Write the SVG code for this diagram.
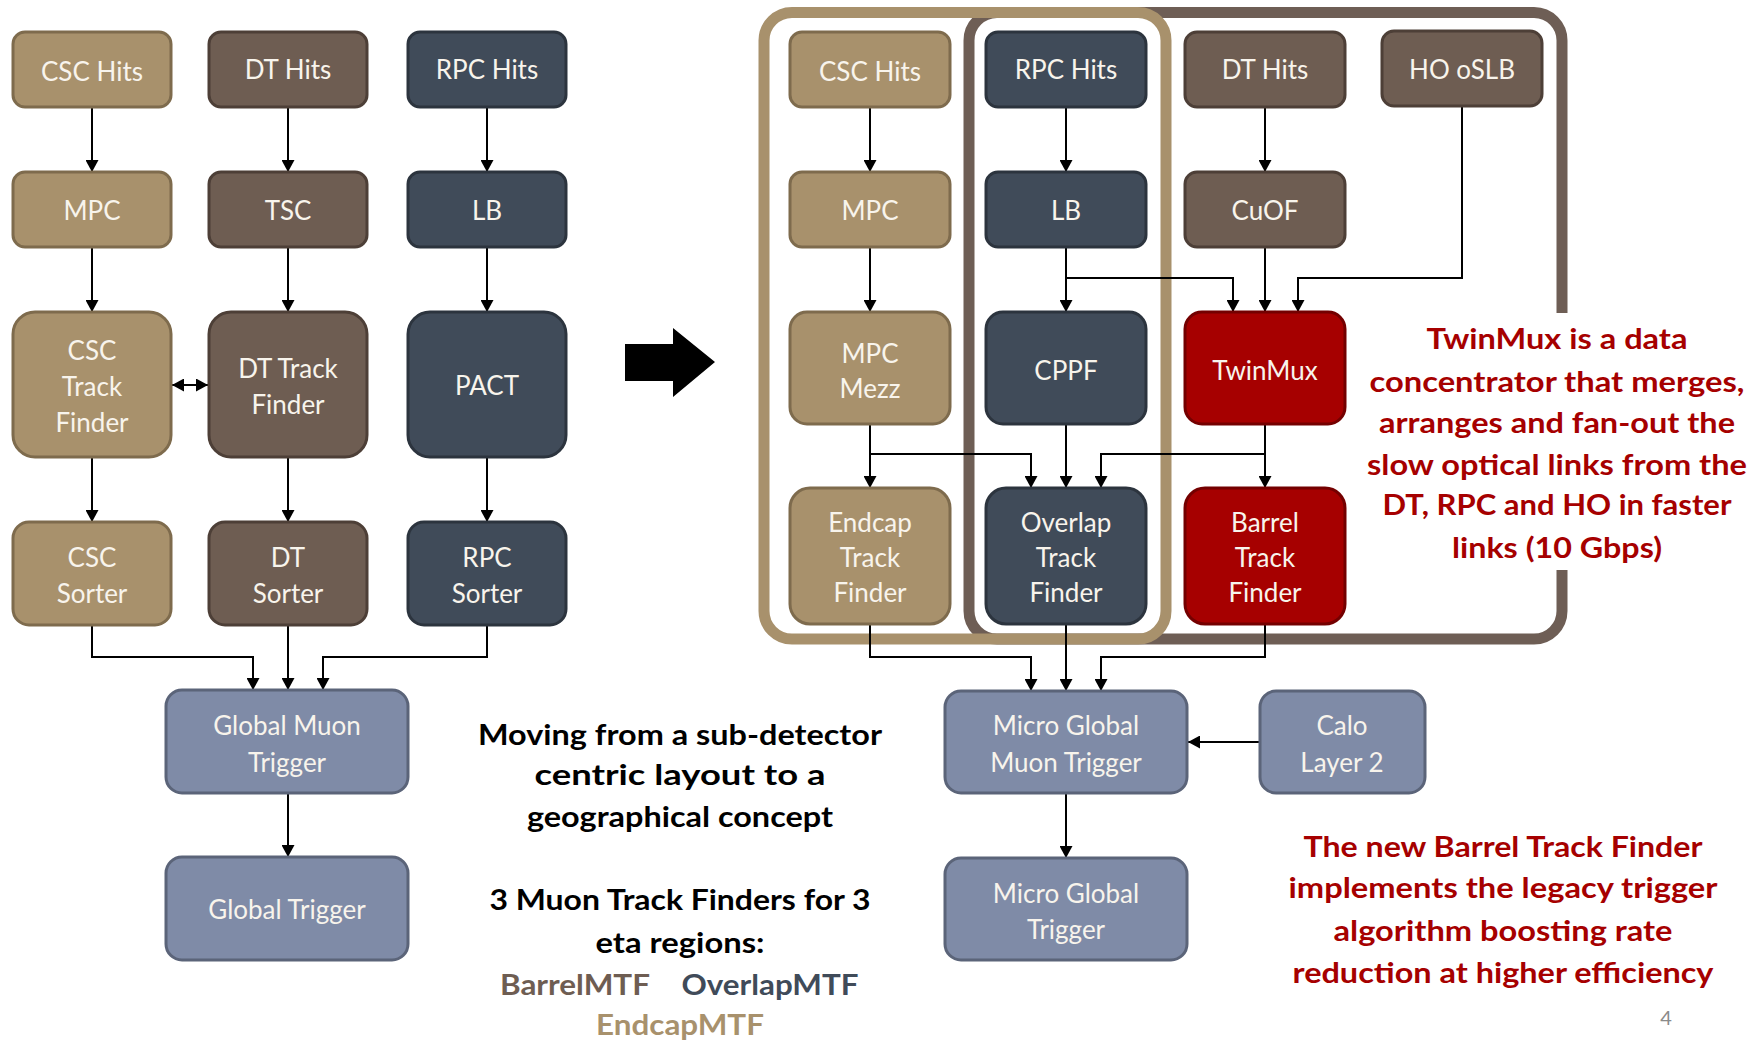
<svg xmlns="http://www.w3.org/2000/svg" width="1759" height="1045" viewBox="0 0 1759 1045">
<defs>
<style>
.box{stroke-width:3}
.tan{fill:#A8916C;stroke:#7E6B4D}
.dt{fill:#6E5D52;stroke:#4D3F37}
.rpc{fill:#404B59;stroke:#2C343E}
.red{fill:#A60000;stroke:#740000}
.gm{fill:#7F8BA7;stroke:#5B6479}
.lbl{font-family:Lato,"Liberation Sans",sans-serif;font-size:26px;fill:#F8F4EC;text-anchor:middle}
.conn path{stroke:#000;stroke-width:2;fill:none}
.ar{marker-end:url(#ah)}
.note{font-family:Lato,"Liberation Sans",sans-serif;font-weight:bold;font-size:28px;text-anchor:middle}
</style>
<marker id="ah" markerWidth="12" markerHeight="13" refX="12" refY="6.5" orient="auto-start-reverse" markerUnits="userSpaceOnUse"><path d="M0,0 L12,6.5 L0,13 z" fill="#000"/></marker>
</defs>
<rect width="1759" height="1045" fill="#fff"/>

<!-- containers -->
<g id="containers" fill="none" stroke-width="11">
<path id="barrel-region" d="M1562,313 V41 A28,28 0 0 0 1534,12.5 H997 A28,28 0 0 0 969,40.5 V611 A28,28 0 0 0 997,639 H1534 A28,28 0 0 0 1562,611 V570" stroke="#6E5E55"/>
<rect id="endcap-region" x="764" y="12.5" width="402" height="626.5" rx="28" stroke="#A8916C"/>
</g>

<!-- big arrow -->
<polygon id="transition-arrow" points="625,344 673,344 673,328 715,362 673,397 673,381 625,381" fill="#000"/>

<!-- connectors -->
<g id="connectors" class="conn">
<path class="ar" d="M92,107 V172"/>
<path class="ar" d="M92,247 V312"/>
<path class="ar" d="M92,457 V522"/>
<path class="ar" d="M288,107 V172"/>
<path class="ar" d="M288,247 V312"/>
<path class="ar" d="M288,457 V522"/>
<path class="ar" d="M487,107 V172"/>
<path class="ar" d="M487,247 V312"/>
<path class="ar" d="M487,457 V522"/>
<path class="ar" d="M172,385 H208" marker-start="url(#ah)"/>
<path class="ar" d="M92,625 V657 H253 V690"/>
<path class="ar" d="M288,625 V690"/>
<path class="ar" d="M487,625 V657 H323 V690"/>
<path class="ar" d="M288,793 V857"/>

<path class="ar" d="M870,107 V172"/>
<path class="ar" d="M870,247 V312"/>
<path class="ar" d="M1066,107 V172"/>
<path class="ar" d="M1066,247 V312"/>
<path class="ar" d="M1066,278 H1233 V312"/>
<path class="ar" d="M1265,107 V172"/>
<path class="ar" d="M1265,247 V312"/>
<path class="ar" d="M1462,106 V278 H1298 V312"/>
<path class="ar" d="M870,424 V488"/>
<path class="ar" d="M870,454 H1031 V488"/>
<path class="ar" d="M1066,424 V488"/>
<path class="ar" d="M1265,424 V488"/>
<path class="ar" d="M1265,454 H1101 V488"/>
<path class="ar" d="M870,624 V657 H1031 V691"/>
<path class="ar" d="M1066,624 V691"/>
<path class="ar" d="M1265,624 V657 H1101 V691"/>
<path class="ar" d="M1260,742 H1188"/>
<path class="ar" d="M1066,793 V858"/>
</g>

<!-- left: legacy -->
<g id="l-csc-hits"><rect class="box tan" x="13" y="32" width="158" height="75" rx="12"/><text class="lbl" x="92" y="81">CSC Hits</text></g>
<g id="l-dt-hits"><rect class="box dt" x="209" y="32" width="158" height="75" rx="12"/><text class="lbl" x="288" y="79">DT Hits</text></g>
<g id="l-rpc-hits"><rect class="box rpc" x="408" y="32" width="158" height="75" rx="12"/><text class="lbl" x="487" y="79">RPC Hits</text></g>
<g id="l-mpc"><rect class="box tan" x="13" y="172" width="158" height="75" rx="12"/><text class="lbl" x="92" y="220">MPC</text></g>
<g id="l-tsc"><rect class="box dt" x="209" y="172" width="158" height="75" rx="12"/><text class="lbl" x="288" y="220">TSC</text></g>
<g id="l-lb"><rect class="box rpc" x="408" y="172" width="158" height="75" rx="12"/><text class="lbl" x="487" y="220">LB</text></g>
<g id="l-csc-tf"><rect class="box tan" x="13" y="312" width="158" height="145" rx="22"/><text class="lbl" x="92" y="360">CSC</text><text class="lbl" x="92" y="396">Track</text><text class="lbl" x="92" y="432">Finder</text></g>
<g id="l-dt-tf"><rect class="box dt" x="209" y="312" width="158" height="145" rx="22"/><text class="lbl" x="288" y="378">DT Track</text><text class="lbl" x="288" y="414">Finder</text></g>
<g id="l-pact"><rect class="box rpc" x="408" y="312" width="158" height="145" rx="22"/><text class="lbl" x="487" y="395">PACT</text></g>
<g id="l-csc-sorter"><rect class="box tan" x="13" y="522" width="158" height="103" rx="16"/><text class="lbl" x="92" y="567">CSC</text><text class="lbl" x="92" y="603">Sorter</text></g>
<g id="l-dt-sorter"><rect class="box dt" x="209" y="522" width="158" height="103" rx="16"/><text class="lbl" x="288" y="567">DT</text><text class="lbl" x="288" y="603">Sorter</text></g>
<g id="l-rpc-sorter"><rect class="box rpc" x="408" y="522" width="158" height="103" rx="16"/><text class="lbl" x="487" y="567">RPC</text><text class="lbl" x="487" y="603">Sorter</text></g>
<g id="l-gmt"><rect class="box gm" x="166" y="690" width="242" height="103" rx="16"/><text class="lbl" x="287" y="735">Global Muon</text><text class="lbl" x="287" y="772">Trigger</text></g>
<g id="l-gt"><rect class="box gm" x="166" y="857" width="242" height="103" rx="16"/><text class="lbl" x="287" y="919">Global Trigger</text></g>

<!-- right: upgraded -->
<g id="r-csc-hits"><rect class="box tan" x="790" y="32" width="160" height="75" rx="12"/><text class="lbl" x="870" y="81">CSC Hits</text></g>
<g id="r-rpc-hits"><rect class="box rpc" x="986" y="32" width="160" height="75" rx="12"/><text class="lbl" x="1066" y="79">RPC Hits</text></g>
<g id="r-dt-hits"><rect class="box dt" x="1185" y="32" width="160" height="75" rx="12"/><text class="lbl" x="1265" y="79">DT Hits</text></g>
<g id="r-ho-oslb"><rect class="box dt" x="1382" y="31" width="160" height="75" rx="12"/><text class="lbl" x="1462" y="79">HO oSLB</text></g>
<g id="r-mpc"><rect class="box tan" x="790" y="172" width="160" height="75" rx="12"/><text class="lbl" x="870" y="220">MPC</text></g>
<g id="r-lb"><rect class="box rpc" x="986" y="172" width="160" height="75" rx="12"/><text class="lbl" x="1066" y="220">LB</text></g>
<g id="r-cuof"><rect class="box dt" x="1185" y="172" width="160" height="75" rx="12"/><text class="lbl" x="1265" y="220">CuOF</text></g>
<g id="r-mpc-mezz"><rect class="box tan" x="790" y="312" width="160" height="112" rx="17"/><text class="lbl" x="870" y="363">MPC</text><text class="lbl" x="870" y="398">Mezz</text></g>
<g id="r-cppf"><rect class="box rpc" x="986" y="312" width="160" height="112" rx="17"/><text class="lbl" x="1066" y="380">CPPF</text></g>
<g id="r-twinmux"><rect class="box red" x="1185" y="312" width="160" height="112" rx="17"/><text class="lbl" x="1265" y="380">TwinMux</text></g>
<g id="r-emtf"><rect class="box tan" x="790" y="488" width="160" height="136" rx="20"/><text class="lbl" x="870" y="532">Endcap</text><text class="lbl" x="870" y="567">Track</text><text class="lbl" x="870" y="602">Finder</text></g>
<g id="r-omtf"><rect class="box rpc" x="986" y="488" width="160" height="136" rx="20"/><text class="lbl" x="1066" y="532">Overlap</text><text class="lbl" x="1066" y="567">Track</text><text class="lbl" x="1066" y="602">Finder</text></g>
<g id="r-bmtf"><rect class="box red" x="1185" y="488" width="160" height="136" rx="20"/><text class="lbl" x="1265" y="532">Barrel</text><text class="lbl" x="1265" y="567">Track</text><text class="lbl" x="1265" y="602">Finder</text></g>
<g id="r-ugmt"><rect class="box gm" x="945" y="691" width="242" height="102" rx="16"/><text class="lbl" x="1066" y="735">Micro Global</text><text class="lbl" x="1066" y="772">Muon Trigger</text></g>
<g id="r-calo"><rect class="box gm" x="1260" y="691" width="165" height="102" rx="16"/><text class="lbl" x="1342" y="735">Calo</text><text class="lbl" x="1342" y="772">Layer 2</text></g>
<g id="r-ugt"><rect class="box gm" x="945" y="858" width="242" height="102" rx="16"/><text class="lbl" x="1066" y="903">Micro Global</text><text class="lbl" x="1066" y="939">Trigger</text></g>

<!-- annotations -->
<g id="notes" class="note">
<text x="680" y="745" fill="#000" textLength="404" lengthAdjust="spacingAndGlyphs">Moving from a sub-detector</text>
<text x="680" y="785" fill="#000" textLength="291" lengthAdjust="spacingAndGlyphs">centric layout to a</text>
<text x="680" y="827" fill="#000" textLength="306" lengthAdjust="spacingAndGlyphs">geographical concept</text>
<text x="680" y="910" fill="#000" textLength="381" lengthAdjust="spacingAndGlyphs">3 Muon Track Finders for 3</text>
<text x="680" y="953" fill="#000" textLength="169" lengthAdjust="spacingAndGlyphs">eta regions:</text>
<text x="575" y="995" fill="#6E5D52" textLength="150" lengthAdjust="spacingAndGlyphs">BarrelMTF</text>
<text x="770" y="995" fill="#404B59" textLength="177" lengthAdjust="spacingAndGlyphs">OverlapMTF</text>
<text x="680" y="1035" fill="#A8916C" textLength="168" lengthAdjust="spacingAndGlyphs">EndcapMTF</text>
<g fill="#A60000">
<text x="1557" y="349" textLength="261" lengthAdjust="spacingAndGlyphs">TwinMux is a data</text>
<text x="1557" y="392" textLength="375" lengthAdjust="spacingAndGlyphs">concentrator that merges,</text>
<text x="1557" y="433" textLength="356" lengthAdjust="spacingAndGlyphs">arranges and fan-out the</text>
<text x="1557" y="475" textLength="380" lengthAdjust="spacingAndGlyphs">slow optical links from the</text>
<text x="1557" y="515" textLength="349" lengthAdjust="spacingAndGlyphs">DT, RPC and HO in faster</text>
<text x="1557" y="558" textLength="210" lengthAdjust="spacingAndGlyphs">links (10 Gbps)</text>
<text x="1503" y="857" textLength="399" lengthAdjust="spacingAndGlyphs">The new Barrel Track Finder</text>
<text x="1503" y="898" textLength="429" lengthAdjust="spacingAndGlyphs">implements the legacy trigger</text>
<text x="1503" y="941" textLength="339" lengthAdjust="spacingAndGlyphs">algorithm boosting rate</text>
<text x="1503" y="983" textLength="421" lengthAdjust="spacingAndGlyphs">reduction at higher efficiency</text>
</g>
</g>
<text id="page-number" x="1666" y="1025" font-family="Lato,'Liberation Sans',sans-serif" font-size="20" fill="#8A8A8A" text-anchor="middle">4</text>
</svg>
